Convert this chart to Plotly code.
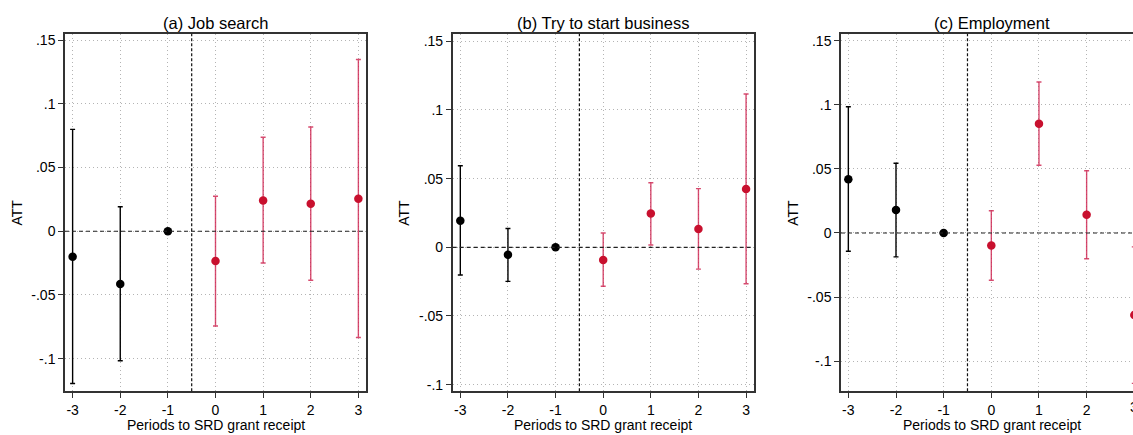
import plotly.graph_objects as go

# ---------------- data ----------------
periods = [-3, -2, -1, 0, 1, 2, 3]
tick_vals_y = [-0.1, -0.05, 0, 0.05, 0.1, 0.15]
tick_text_y = ["-.1", "-.05", "0", ".05", ".1", ".15"]
tick_text_x = ["-3", "-2", "-1", "0", "1", "2", "3"]

titles = ["(a) Job search", "(b) Try to start business", "(c) Employment"]
x_title = "Periods to SRD grant receipt"
y_title = "ATT"

# (a) Job search
est_a = [-0.020, -0.0413, 0.0, -0.0234, 0.0242, 0.0216, 0.0255]
lo_a = [-0.1195, -0.1016, 0.0, -0.0743, -0.0249, -0.0384, -0.0834]
hi_a = [0.0800, 0.0192, 0.0, 0.0275, 0.0738, 0.0818, 0.1348]

# (b) Try to start business
est_b = [0.0193, -0.0055, 0.0, -0.0092, 0.0246, 0.0133, 0.0424]
lo_b = [-0.0202, -0.0248, 0.0, -0.0284, 0.0017, -0.0159, -0.0265]
hi_b = [0.0593, 0.0137, 0.0, 0.0104, 0.0470, 0.0427, 0.1116]

# (c) Employment
est_c = [0.0420, 0.0180, 0.0, -0.0098, 0.0853, 0.0142, -0.0639]
lo_c = [-0.0142, -0.0186, 0.0, -0.0369, 0.0528, -0.0201, -0.1173]
hi_c = [0.0985, 0.0544, 0.0, 0.0173, 0.1178, 0.0485, -0.0108]

treatment_line = -0.5

# ---------------- styling / layout ----------------
W, H = 1133, 435
FONT = "Liberation Sans, Arial, sans-serif"
BLACK = "#000000"
RED = "#c8102e"
RED_BAR = "rgba(205,30,75,0.80)"
GRID = "#b4b4b4"
FRAME = "#333333"
TICK_SIZE = 14
TITLE_SIZE = 16.5

panels = [
    dict(est=est_a, lo=lo_a, hi=hi_a, xdom=(65, 366), xrange=[-3.16, 3.16],
         yrange=[-0.1256, 0.155], att_x=17, mirror_y=True),
    dict(est=est_b, lo=lo_b, hi=hi_b, xdom=(452.7, 753.7), xrange=[-3.16, 3.16],
         yrange=[-0.1048, 0.1554], att_x=403.3, mirror_y=True),
    dict(est=est_c, lo=lo_c, hi=hi_c, xdom=(841, 1133), xrange=[-3.154, 2.973],
         yrange=[-0.1235, 0.1554], att_x=792.3, mirror_y=False),
]
ytop, ybot = 32, 392
ydom = [1 - ybot / H, 1 - ytop / H]

fig = go.Figure()
annotations = []
shapes = []

for i, p in enumerate(panels, start=1):
    xa = "x" if i == 1 else f"x{i}"
    ya = "y" if i == 1 else f"y{i}"
    pre = [k for k, t in enumerate(periods) if t < 0]
    post = [k for k, t in enumerate(periods) if t >= 0]
    for idx, mcol, bcol in ((pre, BLACK, BLACK), (post, RED, RED_BAR)):
        xs = [periods[k] for k in idx]
        ys = [p["est"][k] for k in idx]
        up = [p["hi"][k] - p["est"][k] for k in idx]
        dn = [p["est"][k] - p["lo"][k] for k in idx]
        fig.add_trace(go.Scatter(
            x=xs, y=ys, mode="markers", xaxis=xa, yaxis=ya,
            marker=dict(color=mcol, size=8.5, line=dict(width=0)),
            error_y=dict(type="data", symmetric=False, array=up, arrayminus=dn,
                         color=bcol, thickness=1.4, width=2.5),
            showlegend=False, cliponaxis=True,
        ))

    xkey = "xaxis" if i == 1 else f"xaxis{i}"
    ykey = "yaxis" if i == 1 else f"yaxis{i}"
    fig.update_layout({
        xkey: dict(
            domain=[p["xdom"][0] / W, p["xdom"][1] / W], range=p["xrange"],
            anchor=ya, tickvals=periods, ticktext=tick_text_x,
            showgrid=True, gridcolor=GRID, griddash="1px,3px", gridwidth=1,
            zeroline=False, showline=True, linecolor=FRAME, linewidth=1.5,
            mirror=True, ticks="outside", ticklen=5, tickcolor=FRAME,
            tickfont=dict(family=FONT, size=TICK_SIZE, color=BLACK),
        ),
        ykey: dict(
            domain=ydom, range=p["yrange"], anchor=xa,
            tickvals=tick_vals_y, ticktext=tick_text_y,
            showgrid=True, gridcolor=GRID, griddash="1px,3px", gridwidth=1,
            zeroline=False, showline=True, linecolor=FRAME, linewidth=1.5,
            mirror=p["mirror_y"], ticks="outside", ticklen=5, tickcolor=FRAME,
            tickfont=dict(family=FONT, size=TICK_SIZE, color=BLACK),
        ),
    })

    # reference lines
    shapes.append(dict(type="line", xref=f"{xa} domain", yref=ya, x0=0, x1=1,
                       y0=0, y1=0, line=dict(color="#222222", width=1.2, dash="4px,3px")))
    shapes.append(dict(type="line", xref=xa, yref=f"{ya} domain",
                       x0=treatment_line, x1=treatment_line, y0=0, y1=1,
                       line=dict(color="#111111", width=1.2, dash="3px,2px")))

    xc = (p["xdom"][0] + (p["xdom"][0] + 301)) / 2 / W
    annotations.append(dict(text=titles[i - 1], x=xc, y=1 - 20.7 / H,
                            xref="paper", yref="paper", showarrow=False,
                            xanchor="center", yanchor="middle",
                            font=dict(family=FONT, size=TITLE_SIZE, color=BLACK)))
    annotations.append(dict(text=x_title, x=xc, y=1 - 425.7 / H,
                            xref="paper", yref="paper", showarrow=False,
                            xanchor="center", yanchor="middle",
                            font=dict(family=FONT, size=TICK_SIZE, color=BLACK)))
    annotations.append(dict(text=y_title, x=p["att_x"] / W, y=1 - 212 / H,
                            xref="paper", yref="paper", showarrow=False,
                            textangle=-90, xanchor="center", yanchor="middle",
                            font=dict(family=FONT, size=TICK_SIZE, color=BLACK)))

# last tick label of panel (c), cut by the picture edge: map x=3 through
# panel (c)'s axis range onto its paper domain
pc = panels[2]
d0, d1 = pc["xdom"][0] / W, pc["xdom"][1] / W
r0, r1 = pc["xrange"]
x_last = d0 + (periods[-1] - r0) / (r1 - r0) * (d1 - d0)
annotations.append(dict(text=tick_text_x[-1], x=x_last, xref="paper",
                        y=1 - 408 / H, yref="paper", showarrow=False,
                        xanchor="center", yanchor="middle",
                        font=dict(family=FONT, size=TICK_SIZE, color=BLACK)))

fig.update_layout(
    width=W, height=H, margin=dict(l=0, r=0, t=0, b=0),
    paper_bgcolor="white", plot_bgcolor="white",
    shapes=shapes, annotations=annotations, showlegend=False,
)

fig.write_html("out.html")
